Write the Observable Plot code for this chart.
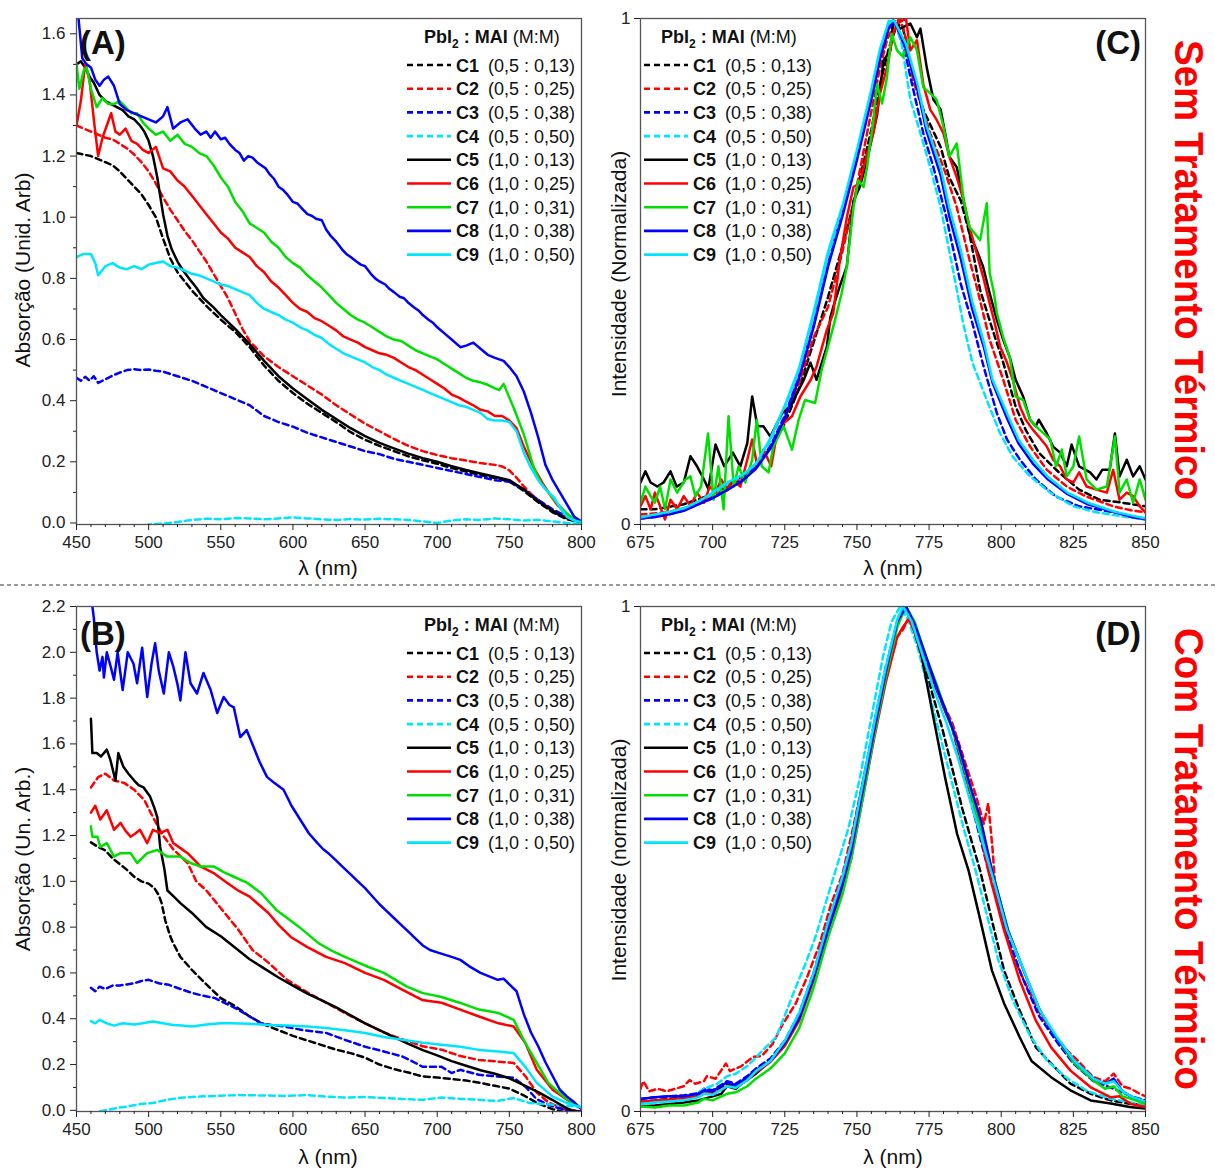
<!DOCTYPE html>
<html><head><meta charset="utf-8">
<script src="https://cdn.jsdelivr.net/npm/d3@7"></script>
<script src="https://cdn.jsdelivr.net/npm/@observablehq/plot@0.6"></script>
<style>
body{margin:0;background:#fff;}
#root{position:relative;width:1215px;height:1171px;overflow:hidden;background:#fff;}
</style></head><body><div id="root"></div>
<script>
// ---------- series metadata ----------
const seriesNames = ["C1","C2","C3","C4","C5","C6","C7","C8","C9"];
const seriesRatios = ["(0,5 : 0,13)","(0,5 : 0,25)","(0,5 : 0,38)","(0,5 : 0,50)","(1,0 : 0,13)","(1,0 : 0,25)","(1,0 : 0,31)","(1,0 : 0,38)","(1,0 : 0,50)"];
const seriesColors = ["#000000","#ff0000","#0000ff","#00e5ff","#000000","#ff0000","#00e000","#0000ff","#00e5ff"];
const seriesDashed = [true,true,true,true,false,false,false,false,false];

const absTicksMajorX = [450,500,550,600,650,700,750,800];
const plTicksMajorX = [675,700,725,750,775,800,825,850];

// ---------- Panel A: absorption, sem tratamento ----------
const A_C1 = [[450,1.21],[455,1.205],[460,1.20],[465,1.19],[470,1.18],[475,1.17],[480,1.15],[485,1.125],[490,1.10],[495,1.075],[500,1.04],[505,1.00],[510,0.93],[515,0.865],[520,0.82],[525,0.79],[530,0.76],[540,0.71],[550,0.665],[560,0.625],[570,0.575],[580,0.515],[590,0.465],[600,0.425],[610,0.39],[620,0.36],[630,0.33],[640,0.297],[650,0.272],[660,0.252],[670,0.235],[680,0.218],[690,0.205],[700,0.194],[710,0.18],[720,0.168],[730,0.157],[740,0.147],[750,0.136],[760,0.105],[770,0.068],[780,0.035],[790,0.012],[800,0.002]];
const A_C2 = [[450,1.30],[455,1.29],[460,1.28],[465,1.27],[470,1.26],[475,1.255],[480,1.24],[485,1.225],[490,1.205],[495,1.18],[500,1.15],[505,1.11],[510,1.065],[515,1.025],[520,0.99],[525,0.955],[530,0.925],[535,0.89],[540,0.855],[545,0.815],[550,0.775],[555,0.735],[560,0.685],[565,0.635],[570,0.595],[580,0.545],[590,0.51],[600,0.48],[610,0.45],[620,0.42],[630,0.385],[640,0.355],[650,0.325],[660,0.30],[670,0.275],[680,0.252],[690,0.235],[700,0.222],[710,0.212],[720,0.204],[730,0.196],[740,0.19],[745,0.185],[750,0.172],[755,0.148],[760,0.12],[765,0.095],[770,0.075],[780,0.04],[790,0.018],[800,0.005]];
const A_C3 = [[450,0.475],[453,0.465],[456,0.478],[459,0.466],[462,0.48],[465,0.458],[470,0.47],[475,0.482],[480,0.492],[485,0.50],[490,0.503],[495,0.50],[500,0.502],[505,0.498],[510,0.495],[520,0.48],[530,0.465],[540,0.445],[550,0.425],[560,0.405],[570,0.385],[580,0.35],[590,0.33],[600,0.315],[610,0.295],[620,0.28],[630,0.265],[640,0.25],[650,0.235],[660,0.225],[670,0.21],[680,0.20],[690,0.19],[700,0.18],[710,0.17],[720,0.16],[730,0.15],[740,0.14],[750,0.135],[760,0.11],[770,0.075],[780,0.045],[790,0.02],[800,0.005]];
const A_C4 = [[450,-0.05],[470,-0.04],[490,-0.02],[500,-0.005],[510,-0.002],[520,0.003],[530,0.01],[540,0.014],[550,0.012],[560,0.016],[570,0.015],[580,0.012],[590,0.015],[600,0.018],[610,0.015],[620,0.012],[630,0.01],[640,0.013],[650,0.011],[660,0.014],[670,0.012],[680,0.01],[690,0.005],[700,0.0],[710,0.008],[720,0.012],[730,0.01],[740,0.015],[750,0.012],[760,0.008],[770,0.01],[780,0.005],[790,0.0],[800,-0.003]];
const A_C5 = [[450,1.50],[453,1.51],[456,1.49],[459,1.46],[462,1.44],[466,1.40],[470,1.38],[474,1.37],[478,1.36],[482,1.35],[486,1.33],[490,1.32],[494,1.30],[497,1.28],[500,1.25],[503,1.20],[506,1.13],[508,1.07],[510,1.01],[513,0.94],[516,0.895],[520,0.855],[524,0.825],[528,0.80],[533,0.77],[538,0.735],[545,0.705],[550,0.68],[560,0.635],[570,0.585],[580,0.53],[590,0.48],[600,0.44],[610,0.405],[620,0.37],[630,0.34],[640,0.31],[650,0.284],[660,0.262],[670,0.244],[680,0.227],[690,0.212],[700,0.2],[710,0.186],[720,0.173],[730,0.162],[740,0.151],[750,0.14],[755,0.125],[760,0.11],[765,0.09],[770,0.07],[775,0.055],[780,0.04],[785,0.025],[790,0.015],[795,0.008],[800,0.004]];
const A_C6 = [[450,1.30],[453,1.38],[456,1.50],[459,1.45],[462,1.32],[465,1.20],[468,1.26],[471,1.30],[474,1.34],[477,1.28],[480,1.27],[484,1.29],[488,1.25],[492,1.24],[496,1.22],[500,1.21],[505,1.23],[510,1.16],[515,1.15],[520,1.12],[525,1.10],[530,1.07],[535,1.04],[540,1.01],[545,0.98],[550,0.95],[555,0.93],[560,0.90],[565,0.885],[570,0.87],[575,0.84],[580,0.82],[585,0.79],[590,0.77],[595,0.745],[600,0.72],[605,0.70],[610,0.69],[615,0.67],[620,0.66],[625,0.645],[630,0.63],[635,0.61],[640,0.60],[645,0.59],[650,0.575],[655,0.565],[660,0.555],[665,0.55],[670,0.54],[675,0.525],[680,0.51],[685,0.50],[690,0.485],[695,0.47],[700,0.455],[705,0.44],[710,0.42],[715,0.41],[720,0.397],[725,0.385],[730,0.37],[735,0.365],[740,0.35],[745,0.35],[750,0.335],[755,0.31],[760,0.25],[767,0.18],[773,0.13],[778,0.094],[783,0.06],[787,0.04],[795,0.01],[800,0.003]];
const A_C7 = [[450,1.50],[452,1.42],[455,1.48],[457,1.49],[460,1.42],[464,1.36],[468,1.39],[472,1.37],[476,1.37],[480,1.38],[484,1.36],[488,1.34],[492,1.34],[496,1.31],[500,1.29],[505,1.27],[510,1.28],[515,1.25],[520,1.27],[525,1.24],[530,1.23],[535,1.21],[540,1.20],[545,1.17],[550,1.13],[555,1.10],[560,1.05],[565,1.02],[570,0.98],[575,0.965],[580,0.95],[585,0.92],[590,0.90],[595,0.87],[600,0.85],[605,0.835],[610,0.81],[615,0.79],[620,0.77],[625,0.745],[630,0.72],[635,0.70],[640,0.68],[645,0.665],[650,0.655],[655,0.64],[660,0.625],[665,0.61],[670,0.60],[675,0.595],[680,0.58],[685,0.565],[690,0.555],[695,0.545],[700,0.535],[705,0.52],[710,0.505],[715,0.49],[720,0.475],[725,0.465],[730,0.46],[735,0.452],[740,0.44],[743,0.435],[746,0.455],[750,0.41],[753,0.377],[760,0.29],[767,0.18],[772,0.13],[778,0.094],[784,0.06],[790,0.03],[795,0.012],[800,0.005]];
const A_C8 = [[450,1.72],[452,1.62],[454,1.52],[457,1.50],[460,1.49],[463,1.45],[466,1.43],[469,1.45],[472,1.46],[476,1.43],[480,1.37],[485,1.35],[490,1.34],[495,1.33],[500,1.32],[505,1.31],[510,1.33],[513,1.36],[517,1.29],[522,1.31],[527,1.32],[532,1.29],[536,1.27],[540,1.28],[543,1.26],[546,1.28],[550,1.255],[553,1.26],[556,1.24],[560,1.22],[563,1.21],[566,1.185],[569,1.20],[572,1.195],[575,1.18],[578,1.17],[581,1.16],[584,1.14],[587,1.125],[590,1.10],[593,1.09],[596,1.075],[600,1.05],[603,1.045],[606,1.03],[610,1.01],[613,1.005],[616,0.995],[620,0.99],[623,0.96],[626,0.94],[630,0.92],[634,0.895],[637,0.88],[640,0.87],[644,0.855],[647,0.845],[650,0.84],[654,0.815],[657,0.80],[660,0.79],[664,0.78],[667,0.765],[670,0.755],[674,0.74],[677,0.735],[680,0.72],[684,0.705],[687,0.695],[690,0.68],[694,0.665],[697,0.655],[700,0.64],[705,0.62],[710,0.60],[716,0.575],[720,0.58],[725,0.59],[730,0.57],[735,0.55],[740,0.54],[746,0.53],[750,0.51],[755,0.48],[760,0.43],[765,0.36],[770,0.28],[775,0.19],[780,0.14],[785,0.10],[790,0.06],[795,0.02],[800,0.005]];
const A_C9 = [[450,0.87],[455,0.88],[460,0.88],[463,0.85],[465,0.81],[470,0.84],[475,0.85],[480,0.835],[485,0.83],[490,0.84],[495,0.83],[500,0.845],[505,0.85],[510,0.855],[515,0.84],[520,0.835],[525,0.825],[530,0.815],[535,0.81],[540,0.80],[545,0.79],[550,0.78],[555,0.775],[560,0.765],[565,0.755],[570,0.745],[575,0.72],[580,0.70],[585,0.69],[590,0.68],[595,0.665],[600,0.655],[605,0.64],[610,0.63],[615,0.615],[620,0.605],[625,0.585],[630,0.57],[635,0.555],[640,0.545],[645,0.535],[650,0.525],[655,0.51],[660,0.50],[665,0.485],[670,0.475],[675,0.465],[680,0.455],[685,0.445],[690,0.435],[695,0.425],[700,0.415],[705,0.405],[710,0.395],[715,0.385],[720,0.38],[725,0.37],[730,0.36],[735,0.34],[740,0.335],[745,0.335],[750,0.33],[755,0.30],[760,0.23],[765,0.18],[770,0.14],[775,0.11],[781,0.083],[785,0.05],[790,0.02],[795,0.008],[800,0.003]];

// ---------- Panel B: absorption, com tratamento ----------
const B_C1 = [[460,1.17],[465,1.15],[470,1.135],[475,1.10],[480,1.075],[485,1.05],[490,1.02],[495,1.00],[500,0.99],[504,0.97],[507,0.94],[509,0.905],[511.5,0.83],[515,0.76],[517,0.73],[522,0.67],[530,0.613],[540,0.55],[550,0.49],[560,0.455],[570,0.41],[580,0.375],[590,0.35],[600,0.325],[610,0.305],[620,0.285],[630,0.265],[640,0.25],[650,0.23],[660,0.20],[670,0.18],[680,0.165],[690,0.148],[700,0.143],[710,0.137],[720,0.13],[730,0.12],[740,0.107],[750,0.095],[760,0.065],[770,0.03],[780,0.005],[790,-0.01],[800,-0.02]];
const B_C2 = [[460,1.41],[465,1.455],[470,1.47],[476,1.44],[483,1.43],[490,1.40],[497,1.355],[503,1.28],[510,1.20],[517,1.14],[527,1.08],[533,1.00],[540,0.96],[551,0.875],[562,0.79],[572,0.70],[583,0.645],[596,0.57],[610,0.515],[623,0.47],[636,0.425],[650,0.38],[663,0.34],[676,0.31],[690,0.28],[703,0.265],[716,0.237],[729,0.22],[742,0.213],[753,0.207],[761,0.15],[769,0.078],[777,0.035],[788,0.005],[795,0.0],[800,-0.005]];
const B_C3 = [[460,0.535],[463,0.52],[466,0.54],[470,0.53],[475,0.545],[480,0.545],[485,0.55],[490,0.555],[495,0.565],[500,0.57],[507,0.555],[514,0.548],[522,0.53],[530,0.513],[538,0.50],[546,0.49],[554,0.465],[562,0.44],[570,0.41],[578,0.38],[586,0.372],[594,0.366],[607,0.35],[623,0.338],[636,0.308],[650,0.278],[663,0.257],[676,0.235],[684,0.21],[690,0.19],[703,0.19],[710,0.163],[716,0.177],[729,0.155],[742,0.148],[753,0.142],[761,0.104],[769,0.048],[780,0.017],[790,0.0],[800,-0.005]];
const B_C4 = [[460,-0.02],[465,-0.005],[470,0.0],[478,0.01],[485,0.017],[495,0.028],[503,0.032],[512,0.045],[522,0.055],[535,0.06],[546,0.063],[562,0.067],[580,0.065],[596,0.063],[610,0.067],[623,0.06],[636,0.056],[650,0.058],[663,0.054],[676,0.05],[690,0.046],[703,0.056],[716,0.05],[729,0.046],[742,0.041],[753,0.054],[764,0.032],[772,0.028],[782,0.024],[790,0.02],[796,0.017],[800,0.01]];
const B_C5 = [[460,1.71],[461,1.56],[464,1.56],[467,1.545],[471,1.575],[473.5,1.53],[477,1.44],[479,1.56],[482.5,1.50],[486,1.47],[490,1.44],[493,1.42],[496.5,1.41],[501,1.37],[504,1.32],[506,1.28],[508,1.15],[511,1.05],[513,0.96],[518,0.93],[522,0.905],[530,0.862],[540,0.80],[550,0.76],[560,0.71],[570,0.66],[580,0.62],[590,0.58],[600,0.545],[610,0.51],[620,0.48],[630,0.45],[640,0.415],[650,0.38],[660,0.35],[670,0.32],[680,0.29],[690,0.263],[700,0.24],[710,0.215],[720,0.195],[730,0.175],[740,0.16],[750,0.14],[760,0.11],[770,0.08],[780,0.045],[788,0.015],[793,0.0],[800,-0.01]];
const B_C6 = [[460,1.30],[463,1.33],[466.5,1.27],[471,1.31],[476,1.225],[480.5,1.255],[484,1.22],[487.5,1.195],[491,1.21],[494,1.225],[499,1.167],[503,1.225],[508,1.21],[513,1.225],[517,1.167],[522,1.145],[527,1.123],[536,1.065],[545,1.036],[554.5,0.993],[561.5,0.962],[570,0.933],[576,0.90],[583,0.862],[590,0.81],[598.5,0.757],[610,0.713],[623,0.67],[636,0.643],[650,0.60],[663,0.57],[676,0.526],[689.5,0.482],[703,0.47],[716,0.44],[729,0.41],[742.5,0.38],[753,0.366],[761,0.295],[769,0.177],[780,0.09],[790,0.046],[798,0.017],[800,0.01]];
const B_C7 = [[460,1.24],[461,1.195],[464.5,1.195],[466.5,1.15],[471,1.167],[476,1.108],[480.5,1.123],[487.5,1.123],[492,1.08],[499,1.123],[506,1.137],[513,1.108],[522,1.108],[529,1.08],[536,1.065],[545,1.065],[552,1.04],[559,1.02],[568.5,0.993],[578,0.948],[588.5,0.875],[596,0.84],[604.5,0.80],[617.7,0.73],[626,0.70],[636,0.67],[652,0.627],[663,0.60],[679,0.54],[689.5,0.513],[703,0.495],[716,0.469],[729,0.44],[742.5,0.425],[753,0.395],[761,0.295],[769,0.207],[777,0.12],[787.6,0.06],[798,0.017],[800,0.01]];
const B_C8 = [[460,2.25],[462,2.15],[464,2.0],[466,1.92],[468,1.98],[469,1.89],[471,2.0],[474,1.93],[476,1.88],[478.5,2.0],[482,1.835],[485.5,2.0],[489.5,1.95],[492,1.865],[495.5,2.02],[499,1.805],[502,1.95],[504.5,2.04],[507,1.92],[510.5,1.82],[514,2.0],[517,1.94],[520,1.86],[522,1.79],[525.5,2.00],[529,1.865],[533.5,1.82],[538,1.91],[543,1.835],[547.5,1.735],[552,1.805],[556,1.77],[559,1.76],[563.5,1.63],[568,1.66],[572.5,1.59],[577,1.52],[582,1.456],[587,1.43],[593.5,1.40],[599,1.33],[605,1.27],[611,1.21],[617,1.167],[621,1.14],[625,1.12],[630,1.09],[635,1.06],[640,1.03],[645,1.0],[650,0.97],[655,0.935],[660,0.9],[665,0.87],[670,0.84],[675,0.81],[680,0.78],[685,0.75],[690,0.72],[695,0.70],[700,0.69],[705,0.68],[710,0.67],[716,0.657],[722,0.63],[730,0.60],[736,0.585],[742,0.57],[746,0.575],[750,0.55],[755,0.52],[760,0.42],[765,0.34],[770,0.28],[775,0.21],[780,0.15],[785,0.09],[790,0.06],[795,0.035],[800,0.005]];
const B_C9 = [[460,0.39],[463,0.38],[466,0.395],[471,0.38],[476,0.37],[482,0.38],[490,0.375],[496,0.38],[503,0.388],[510,0.38],[517,0.373],[523,0.37],[530,0.366],[540,0.375],[550,0.38],[557,0.38],[570,0.378],[583,0.373],[596,0.37],[610,0.366],[623,0.36],[636,0.35],[650,0.338],[663,0.32],[676,0.308],[690,0.295],[703,0.286],[716,0.278],[729,0.264],[742.5,0.257],[753,0.25],[761,0.19],[769,0.12],[780,0.06],[790,0.032],[798,0.017],[800,0.012]];

// ---------- Panel C: PL, sem tratamento ----------
const C_C1 = [[675,0.03],[680,0.03],[685,0.035],[690,0.04],[695,0.05],[700,0.06],[705,0.075],[710,0.095],[715,0.12],[720,0.15],[725,0.2],[730,0.27],[735,0.36],[740,0.45],[745,0.55],[750,0.66],[755,0.78],[758,0.87],[761,0.94],[764,0.99],[766,0.98],[769,0.9],[773,0.82],[779,0.746],[782,0.686],[786,0.64],[789,0.575],[792.7,0.463],[797,0.385],[800.7,0.32],[805,0.233],[808.5,0.187],[813,0.142],[820,0.103],[827,0.069],[834,0.049],[842,0.043],[850,0.036]];
const C_C2 = [[675,0.02],[680,0.022],[685,0.025],[690,0.032],[695,0.042],[700,0.055],[705,0.07],[710,0.09],[715,0.115],[720,0.15],[725,0.21],[730,0.28],[735,0.37],[740,0.43],[745,0.54],[749,0.64],[753.5,0.773],[758,0.903],[760.4,0.957],[763,0.99],[765,1.0],[767,0.96],[769.5,0.878],[775.4,0.773],[780,0.706],[784.6,0.627],[789,0.523],[791.5,0.47],[796,0.365],[800.7,0.286],[805,0.207],[810,0.154],[815.8,0.108],[822.7,0.075],[829.6,0.055],[838.8,0.036],[845,0.028],[850,0.024]];
const C_C3 = [[675,0.012],[680,0.015],[685,0.02],[690,0.028],[695,0.04],[700,0.052],[705,0.068],[710,0.088],[715,0.115],[720,0.155],[725,0.215],[730,0.295],[735,0.395],[740,0.515],[745,0.62],[750,0.73],[755,0.85],[758,0.93],[761,0.985],[763,0.995],[766,0.95],[769.5,0.86],[773,0.773],[776.5,0.706],[781,0.607],[786,0.475],[790,0.398],[794,0.31],[798.5,0.22],[802,0.168],[806.5,0.128],[812,0.089],[819,0.055],[827,0.036],[839,0.024],[845,0.016],[850,0.012]];
const C_C4 = [[675,0.014],[680,0.018],[685,0.024],[690,0.032],[695,0.045],[700,0.06],[705,0.078],[710,0.095],[715,0.12],[720,0.165],[725,0.23],[730,0.305],[735,0.41],[740,0.53],[745,0.625],[750,0.735],[755,0.855],[758,0.935],[761,0.99],[763,0.995],[765.5,0.95],[768.5,0.84],[772,0.773],[775.4,0.706],[779,0.627],[783.4,0.5],[786.8,0.398],[790,0.32],[795,0.246],[799.6,0.18],[804,0.134],[810,0.095],[817,0.063],[825,0.036],[833,0.024],[842,0.016],[850,0.01]];
const C_C5 = [[675,0.083],[676.7,0.105],[678.5,0.083],[680.8,0.075],[683,0.083],[685.4,0.105],[687.5,0.075],[690,0.083],[692.3,0.135],[694.6,0.115],[697,0.089],[698.5,0.07],[701,0.158],[704,0.115],[707,0.142],[709.6,0.115],[712,0.161],[713.7,0.253],[715.5,0.194],[717.6,0.194],[720,0.174],[722.3,0.20],[724,0.22],[727,0.233],[729.3,0.26],[731.6,0.286],[733.9,0.32],[736,0.286],[739.6,0.352],[740.8,0.41],[741.8,0.43],[744,0.47],[746.5,0.51],[748.8,0.64],[751,0.667],[753.5,0.72],[757,0.81],[759.2,0.917],[761.6,0.937],[762.6,0.996],[765,0.98],[768.5,0.99],[770.8,0.963],[772,0.98],[774.3,0.90],[776.5,0.84],[779,0.82],[781,0.76],[782,0.727],[784.6,0.706],[787,0.64],[789,0.575],[791.5,0.542],[793.7,0.51],[796,0.457],[798.5,0.404],[800.7,0.365],[803,0.33],[805,0.286],[807.6,0.253],[810,0.207],[812,0.194],[813,0.207],[815.8,0.18],[818,0.154],[820.4,0.142],[822.7,0.115],[824.4,0.158],[827,0.115],[830.8,0.103],[833,0.089],[835,0.108],[837.6,0.108],[839.4,0.18],[841,0.095],[843.5,0.128],[845.7,0.095],[848,0.115],[850,0.089]];
const C_C6 = [[675,0.036],[676.7,0.056],[678.5,0.03],[680,0.063],[681.8,0.036],[683.5,0.01],[685.4,0.049],[687.7,0.03],[690,0.056],[692.3,0.036],[694.6,0.063],[697,0.043],[699,0.075],[701,0.063],[703,0.089],[705,0.069],[707,0.089],[709.6,0.075],[712,0.128],[713.7,0.168],[715.5,0.115],[717.6,0.148],[720.3,0.115],[722.3,0.18],[724.6,0.20],[727.5,0.214],[730.4,0.253],[734,0.286],[736,0.312],[739.6,0.385],[741.8,0.418],[744,0.52],[746.5,0.607],[748.8,0.667],[751,0.674],[753.5,0.733],[755.7,0.773],[758,0.852],[760.4,0.903],[762.6,0.97],[763.9,0.99],[767,1.0],[768.5,0.937],[770.8,0.957],[773,0.87],[775.4,0.82],[777.6,0.80],[780,0.773],[782,0.727],[784.6,0.686],[787,0.64],[789,0.588],[791.5,0.536],[793.7,0.49],[796,0.437],[797.5,0.404],[799.6,0.352],[802,0.32],[804,0.286],[806.5,0.233],[808.5,0.207],[811,0.187],[813,0.174],[815.8,0.154],[818,0.128],[820.4,0.115],[822.7,0.089],[825,0.083],[827,0.103],[829.6,0.075],[833,0.069],[836.6,0.063],[838.8,0.108],[841,0.049],[843.5,0.063],[845.7,0.056],[848,0.036],[850,0.024]];
const C_C7 = [[675,0.043],[676.7,0.075],[678.5,0.056],[680,0.043],[681.8,0.075],[683.5,0.03],[685.4,0.089],[687.7,0.063],[690.6,0.089],[692.3,0.095],[694,0.056],[696,0.075],[698.4,0.18],[700.3,0.049],[702,0.115],[703.8,0.03],[705.5,0.214],[707.3,0.075],[709,0.115],[711.3,0.083],[713.7,0.128],[715.3,0.207],[717,0.115],[719.4,0.103],[721,0.154],[722.8,0.174],[724.6,0.194],[727.5,0.148],[729.8,0.207],[732,0.246],[735.5,0.24],[737.8,0.306],[740,0.352],[742.4,0.404],[744.7,0.457],[746.5,0.51],[748.8,0.627],[750.5,0.68],[752.3,0.667],[753.5,0.706],[755.7,0.80],[757,0.87],[758.7,0.832],[760.4,0.883],[762,0.97],[763.9,0.937],[766,0.924],[768.5,0.963],[770.8,0.937],[773,0.864],[775.4,0.852],[777.6,0.84],[780,0.786],[782,0.727],[784.6,0.753],[787,0.64],[789,0.588],[792.7,0.562],[795,0.635],[796,0.497],[797.5,0.457],[798.5,0.418],[800.7,0.37],[803,0.33],[805,0.253],[807.6,0.246],[810,0.207],[812,0.194],[814.7,0.18],[817,0.168],[819,0.115],[821,0.148],[822.7,0.095],[825,0.115],[827,0.174],[829.6,0.089],[833,0.069],[836.6,0.075],[839.4,0.174],[841,0.063],[843.5,0.089],[845.7,0.043],[848,0.089],[850,0.049]];
const C_C8 = [[675,0.012],[680,0.015],[685,0.02],[690,0.027],[695,0.04],[700,0.052],[705,0.068],[710,0.085],[715,0.11],[720,0.15],[725,0.21],[730,0.29],[735,0.39],[740,0.51],[745,0.61],[750,0.72],[755,0.84],[758,0.92],[761,0.98],[763,0.995],[767,0.94],[771,0.86],[774,0.78],[779,0.69],[782,0.61],[786,0.525],[790,0.425],[794,0.35],[797,0.28],[802,0.21],[806,0.16],[811,0.12],[816,0.09],[823,0.06],[830,0.04],[839,0.025],[845,0.015],[850,0.01]];
const C_C9 = [[675,0.014],[680,0.02],[685,0.025],[690,0.032],[695,0.045],[700,0.063],[705,0.083],[710,0.097],[715,0.12],[720,0.17],[725,0.235],[730,0.31],[735,0.42],[740,0.54],[745,0.63],[750,0.74],[755,0.86],[758,0.94],[761,0.995],[763,0.995],[767,0.95],[771,0.87],[774,0.79],[779,0.706],[782,0.627],[786,0.542],[790,0.44],[794,0.36],[797,0.286],[802,0.22],[806,0.168],[811,0.128],[816,0.095],[823,0.063],[830,0.043],[839,0.026],[845,0.018],[850,0.012]];

// ---------- Panel D: PL, com tratamento ----------
const D_C1 = [[675,0.02],[680,0.022],[685,0.025],[690,0.028],[695,0.032],[697,0.04],[700,0.038],[705,0.055],[708,0.05],[712,0.065],[715,0.08],[720,0.1],[725,0.135],[730,0.185],[735,0.265],[740,0.365],[745,0.45],[748,0.52],[752,0.64],[756,0.76],[760,0.87],[764,0.97],[767,1.0],[770,0.96],[772,0.92],[776,0.83],[779.5,0.76],[783,0.68],[786.5,0.60],[790,0.53],[792.7,0.477],[796.8,0.378],[801,0.279],[806.4,0.2],[812,0.127],[817.3,0.095],[824,0.055],[831,0.035],[838,0.022],[845,0.015],[850,0.012]];
const D_C2 = [[675,0.045],[676,0.06],[678,0.04],[681,0.045],[684,0.04],[687,0.045],[690,0.05],[692,0.062],[694,0.055],[697,0.06],[698,0.07],[701,0.065],[704.6,0.095],[706,0.08],[710,0.09],[714,0.108],[717,0.11],[720.8,0.134],[724,0.17],[728.8,0.214],[733,0.27],[737,0.33],[741,0.41],[745,0.47],[749,0.57],[753,0.68],[757,0.78],[761,0.88],[764,0.94],[766,0.955],[768,0.98],[770,0.95],[774,0.88],[778,0.83],[783,0.77],[787,0.70],[791,0.63],[794,0.57],[795.5,0.61],[797,0.52],[798.2,0.424],[803.6,0.313],[809,0.246],[813.4,0.194],[819,0.147],[823,0.12],[826.7,0.10],[829,0.085],[832,0.068],[836,0.06],[839,0.075],[842,0.05],[845,0.045],[848,0.035],[850,0.03]];
const D_C3 = [[675,0.025],[680,0.028],[685,0.03],[690,0.032],[695,0.036],[697,0.045],[700,0.042],[705,0.06],[708,0.055],[712,0.07],[715,0.085],[720,0.105],[725,0.14],[730,0.195],[735,0.275],[740,0.375],[745,0.46],[748,0.53],[752,0.65],[756,0.77],[760,0.88],[764,0.97],[767,1.0],[770,0.96],[774,0.89],[778,0.83],[783,0.76],[787,0.67],[791,0.58],[795,0.49],[798,0.43],[802,0.35],[807,0.27],[813,0.19],[819,0.14],[825,0.095],[832,0.06],[839,0.045],[845,0.03],[850,0.022]];
const D_C4 = [[675,0.016],[680,0.018],[688,0.022],[693,0.03],[697,0.045],[701.6,0.055],[705,0.07],[708,0.075],[712,0.09],[715.2,0.108],[718,0.125],[722,0.147],[725,0.19],[728.8,0.246],[732,0.29],[735.6,0.345],[739,0.41],[742.6,0.477],[747,0.56],[751,0.66],[755,0.78],[759,0.9],[762,0.97],[765,1.0],[768,0.97],[771,0.92],[775,0.83],[779,0.74],[783,0.65],[787,0.56],[791,0.48],[795,0.39],[799,0.3],[804,0.22],[810,0.15],[816,0.1],[823,0.065],[830,0.04],[838,0.025],[845,0.018],[850,0.012]];
const D_C5 = [[675,0.01],[680,0.012],[685,0.015],[690,0.018],[695,0.022],[700,0.03],[703,0.035],[705,0.05],[708,0.045],[710,0.055],[715,0.075],[720,0.1],[725,0.135],[730,0.19],[735,0.27],[740,0.37],[745,0.45],[748,0.52],[752,0.64],[756,0.76],[760,0.87],[764,0.97],[767,1.0],[770,0.95],[772.5,0.90],[776.5,0.78],[780.6,0.66],[784.7,0.55],[788.7,0.477],[792.8,0.378],[796.8,0.279],[801,0.214],[806.4,0.147],[810.5,0.10],[817.3,0.068],[824,0.042],[831,0.022],[838,0.016],[844.5,0.009],[850,0.006]];
const D_C6 = [[675,0.02],[680,0.022],[685,0.024],[690,0.027],[695,0.03],[697,0.038],[700,0.035],[705,0.05],[708,0.048],[712,0.062],[715,0.078],[720,0.098],[725,0.13],[730,0.18],[735,0.26],[740,0.36],[745,0.44],[748,0.5],[752,0.62],[756,0.74],[760,0.85],[764,0.94],[766,0.96],[768,0.975],[770,0.95],[774,0.88],[777,0.85],[780,0.8],[783,0.76],[787,0.68],[791,0.6],[795.5,0.477],[801,0.358],[806.4,0.26],[812,0.18],[817.3,0.127],[824,0.081],[831,0.048],[838,0.028],[841,0.03],[845,0.015],[850,0.009]];
const D_C7 = [[675,0.01],[680,0.008],[685,0.012],[690,0.012],[695,0.018],[697,0.025],[700,0.022],[705,0.035],[708,0.038],[712,0.05],[715,0.065],[720,0.085],[725,0.115],[730,0.165],[735,0.245],[740,0.345],[745,0.43],[748,0.5],[752,0.62],[756,0.745],[760,0.86],[764,0.96],[767,1.0],[770,0.97],[774,0.9],[776,0.87],[778,0.84],[781,0.79],[784,0.745],[788,0.665],[792,0.58],[796.8,0.477],[802.4,0.358],[807.8,0.279],[813.4,0.2],[819,0.147],[825.4,0.095],[832,0.061],[836,0.045],[839,0.05],[842,0.03],[845,0.025],[850,0.015]];
const D_C8 = [[675,0.025],[680,0.028],[685,0.03],[690,0.03],[695,0.035],[697,0.042],[700,0.04],[705,0.058],[708,0.052],[712,0.068],[715,0.082],[720,0.1],[725,0.135],[730,0.185],[735,0.265],[740,0.36],[745,0.45],[748,0.515],[752,0.635],[756,0.755],[760,0.87],[764,0.97],[767,1.0],[770,0.965],[774,0.9],[778,0.835],[781,0.79],[785,0.73],[789,0.65],[793,0.575],[796.8,0.477],[802.4,0.358],[807.8,0.279],[813.4,0.2],[819,0.147],[825.4,0.1],[832,0.065],[836,0.055],[839,0.065],[842,0.04],[845,0.03],[850,0.02]];
const D_C9 = [[675,0.015],[680,0.018],[685,0.02],[690,0.022],[695,0.028],[697,0.035],[700,0.033],[705,0.05],[708,0.047],[712,0.062],[715,0.08],[720,0.1],[725,0.14],[730,0.195],[735,0.275],[740,0.375],[745,0.465],[748,0.53],[752,0.65],[756,0.77],[760,0.88],[764,0.975],[766,1.0],[769,0.97],[773,0.9],[777,0.83],[781,0.77],[785,0.7],[789,0.62],[793,0.545],[797,0.465],[802,0.36],[807.8,0.28],[813.4,0.2],[819,0.15],[825.4,0.1],[832,0.065],[836,0.055],[839,0.06],[842,0.04],[845,0.03],[850,0.02]];

// ---------- drawing ----------
const FONT = "'Liberation Sans', Arial, Helvetica, sans-serif";
const root = document.getElementById("root");

function makePanel(cfg) {
  const marks = [];
  cfg.series.forEach((arr, i) => {
    marks.push(Plot.line(arr, {
      x: d => d[0], y: d => d[1],
      stroke: seriesColors[i], strokeWidth: 2.5,
      strokeDasharray: seriesDashed[i] ? "6,4" : undefined,
      clip: true
    }));
  });
  marks.push(Plot.frame({stroke: "#555", strokeWidth: 1.3}));
  marks.push(Plot.axisX({ticks: cfg.xMajor, tickSize: 6, tickPadding: 5, tickFormat: d => String(d), label: null}));
  marks.push(Plot.axisX({ticks: cfg.xMinor, tickSize: 3, tickFormat: () => "", label: null}));
  marks.push(Plot.axisY({ticks: cfg.yMajor, tickSize: 6, tickPadding: cfg.yPad, tickFormat: cfg.yFormat, label: null}));
  if (cfg.yMinor) marks.push(Plot.axisY({ticks: cfg.yMinor, tickSize: 3, tickFormat: () => "", label: null}));
  const svg = Plot.plot({
    width: cfg.width, height: cfg.height,
    marginLeft: cfg.ml, marginRight: cfg.mr, marginTop: cfg.mt, marginBottom: cfg.mb,
    x: {domain: cfg.xDomain},
    y: {domain: cfg.yDomain},
    style: {fontFamily: FONT, fontSize: "17px", color: "#222", background: "transparent", overflow: "visible"},
    marks
  });
  svg.style.position = "absolute";
  svg.style.left = cfg.left + "px";
  svg.style.top = cfg.top + "px";
  root.appendChild(svg);
}

const fmt1 = d3.format(".1f");
makePanel({series: [A_C1,A_C2,A_C3,A_C4,A_C5,A_C6,A_C7,A_C8,A_C9], left: 0, top: 0, width: 600, height: 585,
  ml: 76, mr: 19, mt: 18, mb: 61, xDomain: [450,800], yDomain: [-0.005,1.65],
  xMajor: absTicksMajorX, xMinor: d3.range(460,800,10).filter(v => v % 50 !== 0),
  yMajor: d3.range(0,1.61,0.2), yMinor: d3.range(0.1,1.61,0.2), yFormat: fmt1, yPad: 5});
makePanel({series: [C_C1,C_C2,C_C3,C_C4,C_C5,C_C6,C_C7,C_C8,C_C9], left: 600, top: 0, width: 600, height: 585,
  ml: 40, mr: 55, mt: 18, mb: 61, xDomain: [675,850], yDomain: [0,1],
  xMajor: plTicksMajorX, xMinor: d3.range(680,850,5).filter(v => v % 25 !== 0),
  yMajor: [0,1], yMinor: null, yFormat: d => String(d), yPad: 4});
makePanel({series: [B_C1,B_C2,B_C3,B_C4,B_C5,B_C6,B_C7,B_C8,B_C9], left: 0, top: 586, width: 600, height: 585,
  ml: 76, mr: 19, mt: 20, mb: 60, xDomain: [450,800], yDomain: [-0.005,2.2],
  xMajor: absTicksMajorX, xMinor: d3.range(460,800,10).filter(v => v % 50 !== 0),
  yMajor: d3.range(0,2.21,0.2), yMinor: d3.range(0.1,2.11,0.2), yFormat: fmt1, yPad: 5});
makePanel({series: [D_C1,D_C2,D_C3,D_C4,D_C5,D_C6,D_C7,D_C8,D_C9], left: 600, top: 586, width: 600, height: 585,
  ml: 40, mr: 55, mt: 20, mb: 60, xDomain: [675,850], yDomain: [0,1],
  xMajor: plTicksMajorX, xMinor: d3.range(680,850,5).filter(v => v % 25 !== 0),
  yMajor: [0,1], yMinor: null, yFormat: d => String(d), yPad: 4});

// ---------- overlay: titles, legends, labels ----------
const ov = d3.select(root).append("svg")
  .attr("width", 1215).attr("height", 1171)
  .style("position", "absolute").style("left", "0px").style("top", "0px")
  .style("font-family", FONT).style("pointer-events", "none");

ov.append("line").attr("x1", 0).attr("x2", 1215).attr("y1", 585).attr("y2", 585)
  .attr("stroke", "#333").attr("stroke-width", 1).attr("stroke-dasharray", "4,3");

function legend(x0, yTitle, yFirst) {
  const g = ov.append("g").attr("font-size", 18).attr("fill", "#111");
  const t = g.append("text").attr("x", x0 + 17).attr("y", yTitle + 6);
  t.append("tspan").attr("font-weight", "bold").text("PbI");
  t.append("tspan").attr("font-weight", "bold").attr("font-size", 12).attr("dy", 5).text("2");
  t.append("tspan").attr("font-weight", "bold").attr("dy", -5).text(" : MAI ");
  t.append("tspan").text("(M:M)");
  seriesNames.forEach((name, i) => {
    const y = yFirst + i * 23.7;
    g.append("line").attr("x1", x0).attr("x2", x0 + 44).attr("y1", y).attr("y2", y)
      .attr("stroke", seriesColors[i]).attr("stroke-width", 2.6)
      .attr("stroke-dasharray", seriesDashed[i] ? "6,4" : null);
    g.append("text").attr("x", x0 + 49).attr("y", y + 6.5).attr("font-weight", "bold").text(name);
    g.append("text").attr("x", x0 + 168).attr("y", y + 6.5).attr("text-anchor", "end").text(seriesRatios[i]);
  });
}
legend(407, 37, 65);
legend(644, 37, 65);
legend(407, 625, 653);
legend(644, 625, 653);

function txt(x, y, s, opts = {}) {
  const e = ov.append("text").attr("x", x).attr("y", y).text(s)
    .attr("font-size", opts.size || 21).attr("fill", opts.fill || "#111")
    .attr("text-anchor", opts.anchor || "middle");
  if (opts.bold) e.attr("font-weight", "bold");
  if (opts.rotate !== undefined) e.attr("transform", `rotate(${opts.rotate},${x},${y})`);
  if (opts.len) e.attr("textLength", opts.len).attr("lengthAdjust", "spacingAndGlyphs");
  return e;
}
// panel letters
txt(80, 54, "(A)", {size: 33, bold: true, anchor: "start"});
txt(1141, 54, "(C)", {size: 33, bold: true, anchor: "end"});
txt(80, 645, "(B)", {size: 33, bold: true, anchor: "start"});
txt(1141, 645, "(D)", {size: 33, bold: true, anchor: "end"});
// x titles
txt(328, 575, "λ (nm)");
txt(893, 575, "λ (nm)");
txt(328, 1164, "λ (nm)");
txt(893, 1164, "λ (nm)");
// y titles
txt(30, 270, "Absorção (Unid. Arb)", {rotate: -90});
txt(626, 274, "Intensidade (Normalizada)", {rotate: -90});
txt(30, 859, "Absorção (Un. Arb.)", {rotate: -90});
txt(626, 860, "Intensidade (normalizada)", {rotate: -90});
// side labels
txt(1175, 270, "Sem Tratamento Térmico", {size: 40, bold: true, fill: "#ff0000", rotate: 90, len: 460});
txt(1175, 859, "Com Tratamento Térmico", {size: 40, bold: true, fill: "#ff0000", rotate: 90, len: 462});
</script></body></html>
